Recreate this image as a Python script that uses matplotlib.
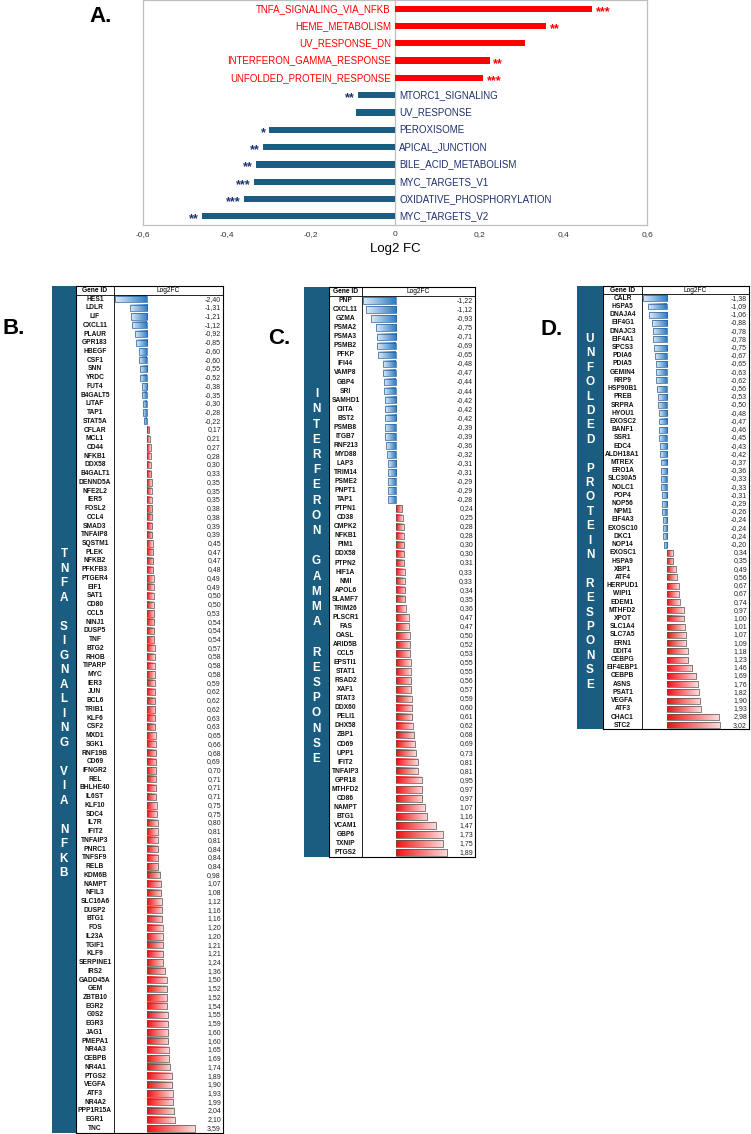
import numpy as np
import matplotlib
matplotlib.use("Agg")
import matplotlib.pyplot as plt
from matplotlib.colors import LinearSegmentedColormap, to_rgb
from matplotlib.patches import Rectangle

plt.rcParams['font.family'] = ['Liberation Sans', 'DejaVu Sans']

# ---- panel A data
hallmarks = ['TNFA_SIGNALING_VIA_NFKB', 'HEME_METABOLISM', 'UV_RESPONSE_DN',
             'INTERFERON_GAMMA_RESPONSE', 'UNFOLDED_PROTEIN_RESPONSE', 'MTORC1_SIGNALING',
             'UV_RESPONSE', 'PEROXISOME', 'APICAL_JUNCTION', 'BILE_ACID_METABOLISM',
             'MYC_TARGETS_V1', 'OXIDATIVE_PHOSPHORYLATION', 'MYC_TARGETS_V2']
hallmark_fc = [0.47, 0.36, 0.31, 0.225, 0.21, -0.088, -0.092, -0.30, -0.315, -0.33,
               -0.335, -0.36, -0.46]
hallmark_sig = ['***', '**', '', '**', '***', '**', '', '*', '**', '**', '***', '***', '**']
a_ticks = [-0.6, -0.4, -0.2, 0.0, 0.2, 0.4, 0.6]
a_ticklabels = ['-0,6', '-0,4', '-0,2', '0', '0,2', '0,4', '0,6']

# ---- panel B data
tnfa_genes = ['HES1', 'LDLR', 'LIF', 'CXCL11', 'PLAUR', 'GPR183', 'HBEGF', 'CSF1', 'SNN', 'YRDC',
              'FUT4', 'B4GALT5', 'LITAF', 'TAP1', 'STAT5A',
              'CFLAR', 'MCL1', 'CD44', 'NFKB1', 'DDX58', 'B4GALT1', 'DENND5A', 'NFE2L2', 'IER5', 'FOSL2',
              'CCL4', 'SMAD3', 'TNFAIP8', 'SQSTM1', 'PLEK', 'NFKB2', 'PFKFB3', 'PTGER4', 'EIF1', 'SAT1',
              'CD80', 'CCL5', 'NINJ1', 'DUSP5', 'TNF', 'BTG2', 'RHOB', 'TIPARP', 'MYC', 'IER3',
              'JUN', 'BCL6', 'TRIB1', 'KLF6', 'CSF2', 'MXD1', 'SGK1', 'RNF19B', 'CD69', 'IFNGR2',
              'REL', 'BHLHE40', 'IL6ST', 'KLF10', 'SDC4', 'IL7R', 'IFIT2', 'TNFAIP3', 'PNRC1', 'TNFSF9',
              'RELB', 'KDM6B', 'NAMPT', 'NFIL3', 'SLC16A6', 'DUSP2', 'BTG1', 'FOS', 'IL23A', 'TGIF1',
              'KLF9', 'SERPINE1', 'IRS2', 'GADD45A', 'GEM', 'ZBTB10', 'EGR2', 'G0S2', 'EGR3', 'JAG1',
              'PMEPA1', 'NR4A3', 'CEBPB', 'NR4A1', 'PTGS2', 'VEGFA', 'ATF3', 'NR4A2', 'PPP1R15A', 'EGR1',
              'TNC']
tnfa_fc = [-2.40, -1.31, -1.21, -1.12, -0.92, -0.85, -0.60, -0.60, -0.55, -0.52,
           -0.38, -0.35, -0.30, -0.28, -0.22,
           0.17, 0.21, 0.27, 0.28, 0.30, 0.33, 0.35, 0.35, 0.35, 0.38,
           0.38, 0.39, 0.39, 0.45, 0.47, 0.47, 0.48, 0.49, 0.49, 0.50,
           0.50, 0.53, 0.54, 0.54, 0.54, 0.57, 0.58, 0.58, 0.58, 0.59,
           0.62, 0.62, 0.62, 0.63, 0.63, 0.65, 0.66, 0.68, 0.69, 0.70,
           0.71, 0.71, 0.71, 0.75, 0.75, 0.80, 0.81, 0.81, 0.84, 0.84,
           0.84, 0.98, 1.07, 1.08, 1.12, 1.16, 1.16, 1.20, 1.20, 1.21,
           1.21, 1.24, 1.36, 1.50, 1.52, 1.52, 1.54, 1.55, 1.59, 1.60,
           1.60, 1.65, 1.69, 1.74, 1.89, 1.90, 1.93, 1.99, 2.04, 2.10,
           3.59]

# ---- panel C data
ifng_genes = ['PNP', 'CXCL11', 'GZMA', 'PSMA2', 'PSMA3', 'PSMB2', 'PFKP', 'IFI44', 'VAMP8', 'GBP4',
              'SRI', 'SAMHD1', 'CIITA', 'BST2', 'PSMB8', 'ITGB7', 'RNF213', 'MYD88', 'LAP3', 'TRIM14',
              'PSME2', 'PNPT1', 'TAP1',
              'PTPN1', 'CD38', 'CMPK2', 'NFKB1', 'PIM1', 'DDX58', 'PTPN2', 'HIF1A', 'NMI', 'APOL6',
              'SLAMF7', 'TRIM26', 'PLSCR1', 'FAS', 'OASL', 'ARID5B', 'CCL5', 'EPSTI1', 'STAT1', 'RSAD2',
              'XAF1', 'STAT3', 'DDX60', 'PELI1', 'DHX58', 'ZBP1', 'CD69', 'UPP1', 'IFIT2', 'TNFAIP3',
              'GPR18', 'MTHFD2', 'CD86', 'NAMPT', 'BTG1', 'VCAM1', 'GBP6', 'TXNIP', 'PTGS2']
ifng_fc = [-1.22, -1.12, -0.93, -0.75, -0.71, -0.69, -0.65, -0.48, -0.47, -0.44,
           -0.44, -0.42, -0.42, -0.42, -0.39, -0.39, -0.36, -0.32, -0.31, -0.31,
           -0.29, -0.29, -0.28,
           0.24, 0.25, 0.28, 0.28, 0.30, 0.30, 0.31, 0.33, 0.33, 0.34,
           0.35, 0.36, 0.47, 0.47, 0.50, 0.52, 0.53, 0.55, 0.55, 0.56,
           0.57, 0.59, 0.60, 0.61, 0.62, 0.68, 0.69, 0.73, 0.81, 0.81,
           0.95, 0.97, 0.97, 1.07, 1.16, 1.47, 1.73, 1.75, 1.89]

# ---- panel D data
upr_genes = ['CALR', 'HSPA5', 'DNAJA4', 'EIF4G1', 'DNAJC3', 'EIF4A1', 'SPCS3', 'PDIA6', 'PDIA5', 'GEMIN4',
             'RRP9', 'HSP90B1', 'PREB', 'SRPRA', 'HYOU1', 'EXOSC2', 'BANF1', 'SSR1', 'EDC4', 'ALDH18A1',
             'MTREX', 'ERO1A', 'SLC30A5', 'NOLC1', 'POP4', 'NOP56', 'NPM1', 'EIF4A3', 'EXOSC10', 'DKC1',
             'NOP14',
             'EXOSC1', 'HSPA9', 'XBP1', 'ATF4', 'HERPUD1', 'WIPI1', 'EDEM1', 'MTHFD2', 'XPOT', 'SLC1A4',
             'SLC7A5', 'ERN1', 'DDIT4', 'CEBPG', 'EIF4EBP1', 'CEBPB', 'ASNS', 'PSAT1', 'VEGFA', 'ATF3',
             'CHAC1', 'STC2']
upr_fc = [-1.38, -1.09, -1.06, -0.88, -0.78, -0.78, -0.75, -0.67, -0.65, -0.63,
          -0.62, -0.56, -0.53, -0.50, -0.48, -0.47, -0.46, -0.45, -0.43, -0.42,
          -0.37, -0.36, -0.33, -0.33, -0.31, -0.29, -0.26, -0.24, -0.24, -0.24,
          -0.20,
          0.34, 0.35, 0.49, 0.56, 0.67, 0.67, 0.74, 0.97, 1.00, 1.01,
          1.07, 1.09, 1.18, 1.23, 1.46, 1.69, 1.76, 1.82, 1.90, 1.93,
          2.98, 3.02]

W, H = 751, 1134
RED = '#FF0000'
TEAL = '#1B5D80'
NAVY = '#1F3170'
BAR_BLUE = '#2B7BC4'
BAR_RED = '#F01010'

fig = plt.figure(figsize=(W / 100, H / 100), dpi=100)


def add_ax(x0, y0, x1, y1):
    return fig.add_axes([x0 / W, 1 - y1 / H, (x1 - x0) / W, (y1 - y0) / H])


def fmt(v):
    return ('%.2f' % v).replace('.', ',')


# ================= panel A =================
ax = add_ax(143, 0, 647, 225)
ya = np.arange(len(hallmarks))
cols = [RED if v > 0 else TEAL for v in hallmark_fc]
ax.barh(ya, hallmark_fc, height=0.36, color=cols, zorder=3)
ax.axvline(0, color='#BFBFBF', lw=0.9, zorder=2)
ax.set_xlim(-0.6, 0.6)
ax.set_ylim(len(hallmarks) - 0.5, -0.5)
ax.set_yticks([])
ax.set_xticks(a_ticks)
ax.set_xticklabels(a_ticklabels, fontsize=6, color='#333333')
ax.tick_params(axis='x', length=0, pad=4)
for s in ax.spines.values():
    s.set_color('#BFBFBF')
    s.set_linewidth(0.9)
ax.set_xlabel('Log2 FC', fontsize=9.5, labelpad=4)
for i, (name, v, sg) in enumerate(zip(hallmarks, hallmark_fc, hallmark_sig)):
    if v > 0:
        ax.text(-0.01, i, name, ha='right', va='center', fontsize=7, color=RED)
        ax.text(v + 0.008, i + 0.18, sg, ha='left', va='center', fontsize=9,
                fontweight='bold', color=RED)
    else:
        ax.text(0.01, i, name, ha='left', va='center', fontsize=7, color=NAVY)
        ax.text(v - 0.008, i + 0.18, sg, ha='right', va='center', fontsize=9,
                fontweight='bold', color=NAVY)
fig.text(89 / W, 1 - 16 / H, 'A.', fontsize=16, fontweight='bold', ha='left', va='center')


# ================= tables =================
def grad_cmap(c):
    r = np.array(to_rgb(c))
    light = r + (1 - r) * 0.85
    return LinearSegmentedColormap.from_list('g', [r, light])


cm_red = grad_cmap(BAR_RED)
cm_blue = grad_cmap(BAR_BLUE)
gvec = np.linspace(0, 1, 128).reshape(1, -1)


def draw_table(genes, vals, word, band_x0, tab_x0, gene_x1, tab_x1, top, row_h,
               zero_px, scale, letter_step, label, label_xy):
    n = len(genes)
    bottom = top + (n + 1) * row_h
    # side band
    fig.add_artist(Rectangle(((band_x0) / W, 1 - bottom / H), (tab_x0 - band_x0) / W,
                             (bottom - top) / H, transform=fig.transFigure,
                             color=TEAL, lw=0))
    letters = list(word)
    yc = (top + row_h + bottom) / 2
    xc = (band_x0 + tab_x0) / 2
    for k, ch in enumerate(letters):
        if ch == ' ':
            continue
        yy = yc + (k - (len(letters) - 1) / 2) * letter_step
        fig.text(xc / W, 1 - yy / H, ch, color='white', fontsize=8.5, fontweight='bold',
                 ha='center', va='center')
    fig.text(label_xy[0] / W, 1 - label_xy[1] / H, label, fontsize=16, fontweight='bold',
             ha='left', va='center')

    ax = add_ax(tab_x0, top, tab_x1, bottom)
    x0 = (tab_x0 - zero_px) / scale
    x1 = (tab_x1 - zero_px) / scale
    xg = (gene_x1 - zero_px) / scale
    xgc = ((tab_x0 + gene_x1) / 2 - zero_px) / scale
    xvc = ((gene_x1 + tab_x1) / 2 - zero_px) / scale
    xv = (tab_x1 - 2 - zero_px) / scale
    hb = 0.72
    for i, v in enumerate(vals):
        if v > 0:
            ax.imshow(gvec, cmap=cm_red, extent=(0, v, i + hb / 2, i - hb / 2),
                      aspect='auto', interpolation='bilinear', zorder=2)
            ec = '#505050'
        else:
            ax.imshow(gvec[:, ::-1], cmap=cm_blue, extent=(v, 0, i + hb / 2, i - hb / 2),
                      aspect='auto', interpolation='bilinear', zorder=2)
            ec = '#2A5F95'
        ax.add_patch(Rectangle((min(0, v), i - hb / 2), abs(v), hb, fill=False,
                               ec=ec, lw=0.5, zorder=3))
        ax.text(xgc, i, genes[i], ha='center', va='center', fontsize=4.8,
                fontweight='bold', color='#111111')
        ax.text(xv, i, fmt(v), ha='right', va='center', fontsize=5, color='#222222')
    ax.text(xgc, -1, 'Gene ID', ha='center', va='center', fontsize=4.8, fontweight='bold')
    ax.text(xvc, -1, 'Log2FC', ha='center', va='center', fontsize=4.8)
    ax.axhline(-0.5, color='black', lw=0.6)
    ax.axvline(xg, color='black', lw=0.6)
    ax.set_xlim(x0, x1)
    ax.set_ylim(n - 0.5, -1.5)
    ax.set_xticks([])
    ax.set_yticks([])
    for s in ax.spines.values():
        s.set_linewidth(0.8)


draw_table(tnfa_genes, tnfa_fc, 'TNFA SIGNALING VIA NFKB', 52, 76, 114, 223, 286, 8.73,
           147, 13.3, 14.5, 'B.', (3, 329))
draw_table(ifng_genes, ifng_fc, 'INTERFERON GAMMA RESPONSE', 304, 329, 362, 475, 287, 9.05,
           396, 27.0, 15.2, 'C.', (268, 339))
draw_table(upr_genes, upr_fc, 'UNFOLDED PROTEIN RESPONSE', 577, 603, 642, 749, 286, 8.21,
           667, 17.4, 14.4, 'D.', (541, 330))

fig.savefig('out.png', dpi=100)
